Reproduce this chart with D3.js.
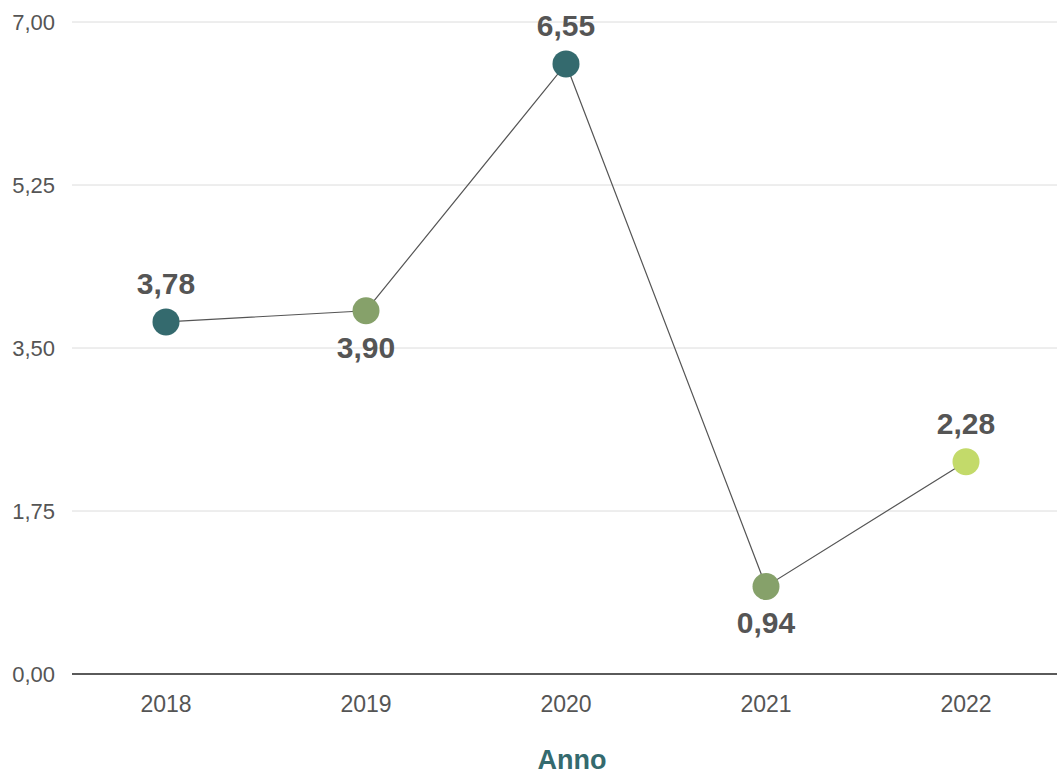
<!DOCTYPE html>
<html>
<head>
<meta charset="utf-8">
<script src="https://cdn.jsdelivr.net/npm/d3@7"></script>
<style>
  body { margin: 0; background: #fff; }
  text { font-family: "Liberation Sans", Arial, sans-serif; }
</style>
</head>
<body>
<script>
// data
const years = ['2018', '2019', '2020', '2021', '2022'];
const values = [3.78, 3.90, 6.55, 0.94, 2.28];
const yTicks = [0, 1.75, 3.5, 5.25, 7];

const pointColors = ['#346a6e', '#86a16a', '#346a6e', '#86a16a', '#c3da6a'];

const width = 1057;
const height = 776;

const svg = d3.select('body').append('svg').attr('width', width).attr('height', height);

const plotLeft = 72, plotRight = 1057, plotTop = 22, plotBottom = 674;

const x = d3.scalePoint().domain(years).range([166, 966]);
const y = d3.scaleLinear().domain([0, 7]).range([plotBottom, plotTop]);

const fmt = v => d3.format('.2f')(v).replace('.', ',');

// grid + y labels
svg.selectAll('.grid')
  .data(yTicks.filter(d => d > 0))
  .enter()
  .append('line')
  .attr('x1', plotLeft).attr('x2', plotRight)
  .attr('y1', d => y(d)).attr('y2', d => y(d))
  .attr('stroke', '#dcdcdc')
  .attr('stroke-width', 1);

svg.selectAll('.ylab')
  .data(yTicks)
  .enter()
  .append('text')
  .attr('x', 55)
  .attr('y', d => y(d))
  .attr('dy', '0.36em')
  .attr('text-anchor', 'end')
  .attr('fill', '#555')
  .style('font-size', '22px')
  .text(fmt);

// baseline
svg.append('line')
  .attr('x1', plotLeft).attr('x2', plotRight)
  .attr('y1', y(0)).attr('y2', y(0))
  .attr('stroke', '#5a5a5a')
  .attr('stroke-width', 2);

// x labels
svg.selectAll('.xlab')
  .data(years)
  .enter()
  .append('text')
  .attr('x', d => x(d))
  .attr('y', 712)
  .attr('text-anchor', 'middle')
  .attr('fill', '#555')
  .style('font-size', '23px')
  .text(d => d);

svg.append('text')
  .attr('x', 572)
  .attr('y', 769)
  .attr('text-anchor', 'middle')
  .attr('fill', '#346a6e')
  .style('font-size', '27px')
  .style('font-weight', 'bold')
  .text('Anno');

// line
const line = d3.line()
  .x((d, i) => x(years[i]))
  .y(d => y(d));

svg.append('path')
  .datum(values)
  .attr('d', line)
  .attr('fill', 'none')
  .attr('stroke', '#555')
  .attr('stroke-width', 1.2);

svg.selectAll('circle')
  .data(values)
  .enter()
  .append('circle')
  .attr('cx', (d, i) => x(years[i]))
  .attr('cy', d => y(d))
  .attr('r', 13.5)
  .attr('fill', (d, i) => pointColors[i]);

// value labels, alternating above / below
svg.selectAll('.vlab')
  .data(values)
  .enter()
  .append('text')
  .attr('x', (d, i) => x(years[i]))
  .attr('y', (d, i) => y(d) + (i % 2 ? 47 : -28))
  .attr('text-anchor', 'middle')
  .attr('fill', '#555')
  .style('font-size', '30px')
  .style('font-weight', 'bold')
  .text(fmt);
</script>
</body>
</html>
